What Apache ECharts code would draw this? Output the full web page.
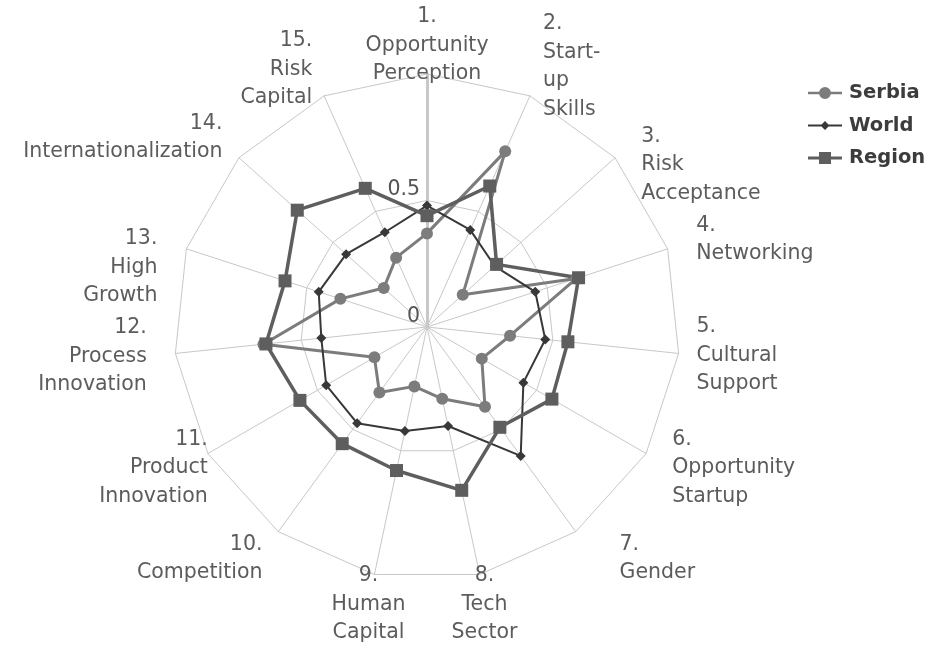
<!DOCTYPE html>
<html>
<head>
<meta charset="utf-8">
<script src="https://cdn.jsdelivr.net/npm/echarts@6/dist/echarts.min.js"></script>
<style>
html,body{margin:0;padding:0;background:#fff;}
#chart{width:930px;height:648px;}
</style>
</head>
<body>
<div id="chart"></div>
<script>
// ---- data ----
const categories = [
  '1.\nOpportunity\nPerception',
  '2.\nStart-\nup\nSkills',
  '3.\nRisk\nAcceptance',
  '4.\nNetworking',
  '5.\nCultural\nSupport',
  '6.\nOpportunity\nStartup',
  '7.\nGender',
  '8.\nTech\nSector',
  '9.\nHuman\nCapital',
  '10.\nCompetition',
  '11.\nProduct\nInnovation',
  '12.\nProcess\nInnovation',
  '13.\nHigh\nGrowth',
  '14.\nInternationalization',
  '15.\nRisk\nCapital'
];
const seriesNames = ['Serbia', 'World', 'Region'];
const serbia = [0.37, 0.76, 0.19, 0.62, 0.33, 0.25, 0.39, 0.29, 0.24, 0.32, 0.24, 0.65, 0.36, 0.23, 0.30];
const world  = [0.48, 0.42, 0.36, 0.45, 0.47, 0.44, 0.63, 0.40, 0.42, 0.47, 0.46, 0.42, 0.45, 0.43, 0.41];
const region = [0.44, 0.61, 0.37, 0.63, 0.56, 0.57, 0.49, 0.66, 0.58, 0.57, 0.58, 0.64, 0.59, 0.69, 0.60];
const axisMax = 1;
const tickLabels = ['0', '0.5'];

// ---- layout / style (not data): [align, verticalAlign, nameGap, padding] ----
const nameLayout = [
  ['center', 'middle', 28.5, [0, 0, 0, 0]],
  ['left',   'middle', 32,   [0, 0, 0, 0]],
  ['left',   'middle', -10.5,[0, 0, 0, 34]],
  ['left',   'middle', 29,   [0, 0, 0, 1]],
  ['left',   'middle', 18,   [0, 0, 0, 0]],
  ['left',   'middle', 29,   [0, 0, 0, 1]],
  ['left',   'top',    -2,   [0, 0, 0, 45]],
  ['center', 'middle', 30.7, [0, 3, 0, 0]],
  ['center', 'middle', 30.7, [0, 0, 0, 1]],
  ['right',  'top',    -2,   [0, 17, 0, 0]],
  ['right',  'top',    -56.5,[0, 49, 0, 0]],
  ['right',  'middle', 28.7, [0, 0, 0, 0]],
  ['right',  'middle', -61,  [0, 87, 0, 0]],
  ['right',  'bottom', -12.7,[0, 26, 0, 0]],
  ['right',  'middle', 29,   [0, 0, 0, 0]]
];

// ECharts radar goes counter-clockwise; reorder so the chart reads clockwise
const n = categories.length;
const order = [0];
for (let i = n - 1; i >= 1; i--) order.push(i);
const reorder = arr => order.map(i => arr[i]);

const indicators = order.map((i, p) => {
  const L = nameLayout[i];
  const ind = {
    name: categories[i],
    min: 0,
    max: axisMax,
    nameGap: L[2],
    nameTextStyle: {
      align: L[0],
      verticalAlign: L[1],
      padding: L[3]
    }
  };
  if (p === 0) {
    ind.axisLabel = {
      show: true,
      formatter: v => {
        const s = String(v);
        return tickLabels.indexOf(s) >= 0 ? s : '';
      }
    };
    ind.axisLine = { lineStyle: { color: '#c8c8c8', width: 3 } };
  }
  return ind;
});

const styles = {
  Serbia: { color: '#7c7c7c', symbol: 'circle', size: 12, width: 3,
            icon: 'path://M0,5.7H34V8.3H0Z M23,7A6,6 0 1 1 11,7A6,6 0 1 1 23,7Z' },
  World:  { color: '#383838', symbol: 'diamond', size: 10, width: 2,
            icon: 'path://M0,3.6H34V5.4H0Z M17,0L21.5,4.5L17,9L12.5,4.5Z' },
  Region: { color: '#5e5e5e', symbol: 'rect', size: 13, width: 3.5,
            icon: 'path://M0,5.6H34V8.4H0Z M11,1H23V13H11Z' }
};
const values = { Serbia: serbia, World: world, Region: region };

const chart = echarts.init(document.getElementById('chart'), null, { renderer: 'canvas' });
chart.setOption({
  animation: false,
  backgroundColor: '#ffffff',
  textStyle: { fontFamily: 'DejaVu Sans' },
  legend: {
    orient: 'vertical',
    left: 803,
    top: 78,
    itemWidth: 34,
    itemHeight: 12,
    itemGap: 12.5,
    symbolKeepAspect: true,
    textStyle: { fontFamily: 'DejaVu Sans', fontSize: 19.5, fontWeight: 'bold', color: '#3c3c3c', padding: [0, 0, 0, 2] },
    data: seriesNames.map(s => ({ name: s, icon: styles[s].icon, itemStyle: { color: styles[s].color, borderWidth: 0 } }))
  },
  radar: {
    center: [427, 327],
    radius: 253,
    startAngle: 90,
    shape: 'polygon',
    splitNumber: 2,
    nameGap: 0,
    axisName: {
      color: '#5c5c5c',
      fontFamily: 'DejaVu Sans',
      fontSize: 20.5,
      lineHeight: 28.5
    },
    axisLine: { lineStyle: { color: '#c8c8c8', width: 1 } },
    splitLine: { lineStyle: { color: '#c8c8c8', width: 1 } },
    splitArea: { show: false },
    axisTick: { show: false },
    axisLabel: {
      show: false,
      color: '#555555',
      fontFamily: 'DejaVu Sans',
      fontSize: 20.5,
      margin: 7,
      align: 'right',
      verticalAlign: 'bottom'
    },
    indicator: indicators
  },
  series: seriesNames.map(s => ({
    type: 'radar',
    name: s,
    symbol: styles[s].symbol,
    symbolSize: styles[s].size,
    itemStyle: { color: styles[s].color },
    lineStyle: { color: styles[s].color, width: styles[s].width },
    areaStyle: null,
    data: [{ name: s, value: reorder(values[s]) }]
  }))
});
</script>
</body>
</html>
